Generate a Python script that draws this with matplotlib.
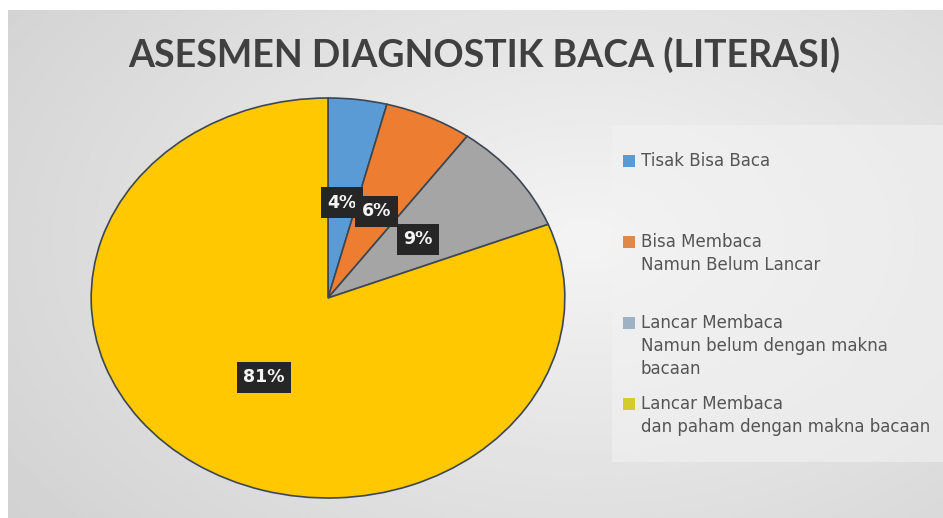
import numpy as np
import matplotlib
matplotlib.use("Agg")
import matplotlib.pyplot as plt
from matplotlib.patches import Rectangle

# chart data
labels = ["Tisak Bisa Baca",
          "Bisa Membaca\nNamun Belum Lancar",
          "Lancar Membaca\nNamun belum dengan makna\nbacaan",
          "Lancar Membaca\ndan paham dengan makna bacaan"]
values = [4, 6, 9, 81]
colors = ["#5B9BD5", "#ED7D31", "#A5A5A5", "#FFC800"]
legend_colors = ["#5B9BD5", "#E0884A", "#9FB2C4", "#D4CC2C"]
title = "ASESMEN DIAGNOSTIK BACA (LITERASI)"

plt.rcParams['font.family'] = ['Lato', 'DejaVu Sans']

W, H = 943, 518
fig = plt.figure(figsize=(W / 100, H / 100), dpi=100)
fig.patch.set_facecolor("white")

# gray gradient panel behind everything
bg = fig.add_axes([8 / W, 0, 1 - 8 / W, (H - 10) / H], zorder=0)
yy, xx = np.mgrid[0:1:200j, 0:1:400j]
dist = np.sqrt(((xx - 0.62) / 0.75) ** 2 + ((yy - 0.45) / 0.9) ** 2)
shade = 0.955 - 0.13 * np.clip(dist, 0, 1.2)
bg.imshow(shade, cmap="gray", vmin=0, vmax=1, aspect="auto",
          extent=[0, 1, 0, 1], interpolation="bilinear")
bg.axis("off")

# lighter legend panel
fig.patches.append(Rectangle((612 / W, (H - 462) / H), (W - 612) / W, 337 / H,
                             transform=fig.transFigure, facecolor="#f2f2f2",
                             edgecolor="none", alpha=0.6, zorder=1))

# pie (stretched like the source image)
ax = fig.add_axes([90 / W, 19 / H, 476 / W, 402 / H], zorder=2)
wedges, texts, autotexts = ax.pie(
    values, colors=colors, startangle=90, counterclock=False,
    autopct="%1.0f%%", pctdistance=0.48,
    wedgeprops=dict(edgecolor="#3d4753", linewidth=1.2),
    textprops=dict(color="#f4f4f4", fontsize=12.5, fontweight="bold",
                   family="DejaVu Sans"))
for t in autotexts:
    t.set_bbox(dict(boxstyle="square,pad=0.38", facecolor="#262626",
                    edgecolor="none"))
ax.set_aspect("auto")
ax.set_xlim(-1.005, 1.005)
ax.set_ylim(-1.005, 1.005)

fig.text(484 / W, 1 - 55 / H, title, ha="center", va="center",
         fontsize=27, fontweight="bold", color="#404040", zorder=3)

# legend, one fixed slot per entry
for i, (lab, c) in enumerate(zip(labels, legend_colors)):
    ytop = 152 + i * 81
    fig.patches.append(Rectangle((623 / W, 1 - (ytop + 15) / H), 12 / W, 12 / H,
                                 transform=fig.transFigure, facecolor=c,
                                 edgecolor="none", zorder=3))
    fig.text(641 / W, 1 - ytop / H, lab, ha="left", va="top", fontsize=12,
             family="DejaVu Sans", color="#555555", linespacing=1.36, zorder=3)

fig.savefig("out.png", dpi=100)
